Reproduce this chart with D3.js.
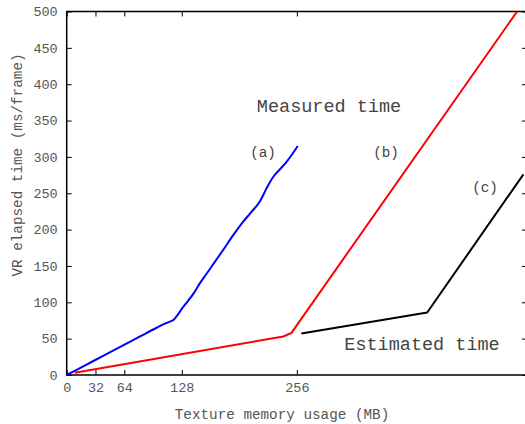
<!DOCTYPE html>
<html>
<head>
<meta charset="utf-8">
<script src="https://cdn.jsdelivr.net/npm/d3@7"></script>
<style>
  body { margin: 0; background: #fff; }
  svg text { font-family: "Liberation Mono", "Courier New", monospace; }
</style>
</head>
<body>
<div id="chart"></div>
<script>
// tick values
var xTicks = [0, 32, 64, 128, 256];
var yTicks = [0, 50, 100, 150, 200, 250, 300, 350, 400, 450, 500];

// (a) measured, blue
var aX = [0, 20, 40, 60, 80, 100, 108, 114, 119, 123, 128, 135, 141, 148, 156, 165, 174, 185, 197, 206, 215, 222, 230, 238, 245, 251, 257];
var aY = [0, 13, 26, 39, 52, 65, 70, 73, 76, 82, 91, 102, 112, 126, 140, 156, 172, 192, 212, 225, 239, 256, 273, 284, 294, 304, 315];

// (b) measured, red
var bX = [9, 241, 250, 501];
var bY = [3, 53, 58, 500];

// (c) estimated, black
var cX = [261, 401, 508];
var cY = [57, 86, 276];

var width = 525, height = 424;
var margin = { left: 66.7, top: 11.5, right: 527, bottom: 375 };

var svg = d3.select("#chart").append("svg")
    .attr("width", width)
    .attr("height", height);

var x = d3.scaleLinear().domain([0, 512]).range([margin.left, margin.right]);
var y = d3.scaleLinear().domain([0, 500]).range([margin.bottom, margin.top]);

// axes with inward ticks
var axisStyle = function(g) {
    g.select(".domain").remove();
    g.selectAll(".tick line").attr("stroke", "#000").attr("stroke-width", 1);
    g.selectAll(".tick text")
        .attr("fill", "#555")
        .style("font-size", "13.5px")
        .style("font-family", "'Liberation Mono', monospace");
};

svg.append("g")
    .attr("transform", "translate(" + margin.left + ",0)")
    .call(d3.axisLeft(y).tickValues(yTicks).tickSize(-5).tickPadding(9))
    .call(axisStyle);

svg.append("g")
    .attr("transform", "translate(" + margin.right + ",0)")
    .call(d3.axisRight(y).tickValues(yTicks).tickSize(-5).tickFormat(""))
    .call(axisStyle);

svg.append("g")
    .attr("transform", "translate(0," + margin.bottom + ")")
    .call(d3.axisBottom(x).tickValues(xTicks).tickSize(-5).tickPadding(7))
    .call(axisStyle);

svg.append("g")
    .attr("transform", "translate(0," + margin.top + ")")
    .call(d3.axisTop(x).tickValues(xTicks).tickSize(-5).tickFormat(""))
    .call(axisStyle);

// frame
svg.append("rect")
    .attr("x", margin.left)
    .attr("y", margin.top)
    .attr("width", margin.right - margin.left)
    .attr("height", margin.bottom - margin.top)
    .attr("fill", "none")
    .attr("stroke", "#000")
    .attr("stroke-width", 1.5);

svg.append("clipPath").attr("id", "clip")
  .append("rect")
    .attr("x", margin.left)
    .attr("y", margin.top)
    .attr("width", margin.right - margin.left)
    .attr("height", margin.bottom - margin.top);

var series = [
    { xs: aX, ys: aY, color: "#0000ff", curve: d3.curveMonotoneX },
    { xs: bX, ys: bY, color: "#ff0000", curve: d3.curveLinear },
    { xs: cX, ys: cY, color: "#000000", curve: d3.curveLinear }
];

series.forEach(function(s) {
    var pts = s.xs.map(function(v, i) { return [v, s.ys[i]]; });
    var line = d3.line()
        .curve(s.curve)
        .x(function(d) { return x(d[0]); })
        .y(function(d) { return y(d[1]); });
    svg.append("path")
        .datum(pts)
        .attr("clip-path", "url(#clip)")
        .attr("d", line)
        .attr("fill", "none")
        .attr("stroke", s.color)
        .attr("stroke-width", 2)
        .attr("stroke-linejoin", "round");
});

// annotations
var notes = [
    { text: "Measured time", px: 329, py: 112, size: 18.5 },
    { text: "(a)", px: 263, py: 157, size: 14.3 },
    { text: "(b)", px: 386, py: 157, size: 14.3 },
    { text: "(c)", px: 485, py: 192, size: 14.3 },
    { text: "Estimated time", px: 422, py: 350, size: 18.5 }
];
svg.selectAll("text.note")
    .data(notes)
    .enter()
    .append("text")
    .attr("class", "note")
    .attr("x", function(d) { return d.px; })
    .attr("y", function(d) { return d.py; })
    .attr("text-anchor", "middle")
    .attr("fill", "#444")
    .style("font-size", function(d) { return d.size + "px"; })
    .text(function(d) { return d.text; });

// axis titles
svg.append("text")
    .attr("x", 282)
    .attr("y", 419)
    .attr("text-anchor", "middle")
    .attr("fill", "#555")
    .style("font-size", "14.3px")
    .text("Texture memory usage (MB)");

svg.append("text")
    .attr("transform", "translate(22,165) rotate(-90)")
    .attr("text-anchor", "middle")
    .attr("fill", "#555")
    .style("font-size", "14.3px")
    .text("VR elapsed time (ms/frame)");
</script>
</body>
</html>
